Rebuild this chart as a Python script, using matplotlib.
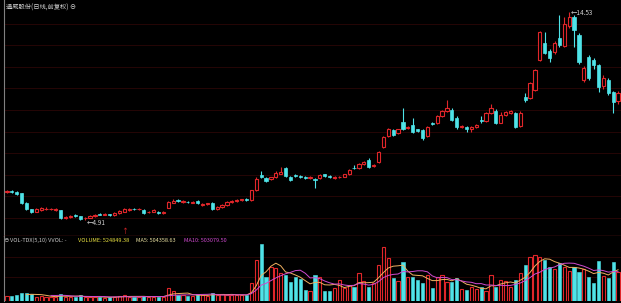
import numpy as np
import matplotlib
matplotlib.use("Agg")
import matplotlib.pyplot as plt

plt.rcParams['font.family'] = ['Noto Sans CJK SC', 'DejaVu Sans']

# Daily candles (price, forward adjusted)
opens = [6.22, 6.25, 6.20, 6.15, 5.72, 5.40, 5.30, 5.38, 5.41, 5.40,
         5.38, 5.35, 5.00, 5.04, 5.15, 5.08, 4.98, 5.02, 5.08, 5.20,
         5.16, 5.17, 5.14, 5.22, 5.30, 5.38, 5.42, 5.40, 5.36, 5.26,
         5.30, 5.30, 5.24, 5.48, 5.72, 5.82, 5.74, 5.76, 5.72, 5.80,
         5.60, 5.64, 5.72, 5.42, 5.50, 5.62, 5.74, 5.80, 5.82, 5.88,
         5.84, 6.28, 7.00, 6.86, 6.82, 6.90, 7.06, 7.30, 6.90, 7.00,
         6.96, 6.90, 6.86, 6.82, 6.84, 7.02, 6.94, 6.86, 6.88, 6.92,
         7.02, 7.32, 7.30, 7.48, 7.70, 7.40, 7.58, 8.30, 8.80, 9.06,
         8.92, 9.46, 9.16, 9.32, 9.10, 9.06, 8.80, 9.42, 9.40, 9.70,
         9.96, 10.00, 9.64, 9.20, 9.22, 9.10, 9.22, 9.56, 9.50, 9.86,
         9.96, 9.42, 9.76, 9.84, 9.88, 9.24, 10.60, 10.56, 10.93, 12.32,
         13.10, 12.75, 12.70, 13.34, 12.96, 13.90, 14.30, 13.47, 11.40, 12.46,
         12.30, 12.09, 11.10, 11.40, 10.84, 10.40]
closes = [6.27, 6.20, 6.12, 5.70, 5.40, 5.28, 5.40, 5.45, 5.44, 5.43,
          5.42, 5.00, 5.06, 5.10, 5.10, 4.96, 5.02, 5.08, 5.14, 5.16,
          5.18, 5.14, 5.22, 5.32, 5.40, 5.42, 5.40, 5.42, 5.24, 5.30,
          5.38, 5.24, 5.28, 5.74, 5.80, 5.78, 5.78, 5.74, 5.76, 5.70,
          5.66, 5.68, 5.42, 5.50, 5.62, 5.74, 5.80, 5.84, 5.86, 5.82,
          6.28, 6.82, 6.90, 6.72, 6.88, 7.10, 7.14, 6.94, 6.74, 6.95,
          6.88, 6.86, 6.90, 6.76, 7.00, 6.96, 6.88, 6.90, 6.92, 7.02,
          7.22, 7.30, 7.50, 7.58, 7.36, 7.46, 8.06, 8.74, 9.10, 8.86,
          9.10, 9.12, 9.22, 8.98, 9.04, 8.70, 9.20, 9.34, 9.70, 9.96,
          10.10, 9.56, 9.20, 9.26, 9.10, 9.20, 9.30, 9.48, 9.86, 10.10,
          9.40, 9.76, 9.90, 9.96, 9.22, 9.88, 10.45, 11.25, 11.85, 13.61,
          12.64, 12.40, 13.10, 13.00, 14.00, 14.30, 13.70, 12.22, 11.95, 11.50,
          12.08, 11.07, 11.50, 10.80, 10.38, 10.80]
highs = [6.32, 6.30, 6.24, 6.18, 5.75, 5.42, 5.46, 5.50, 5.50, 5.47,
         5.47, 5.38, 5.10, 5.14, 5.20, 5.10, 5.05, 5.12, 5.18, 5.25,
         5.22, 5.20, 5.26, 5.36, 5.45, 5.46, 5.46, 5.46, 5.40, 5.34,
         5.42, 5.34, 5.32, 5.80, 5.86, 5.88, 5.82, 5.80, 5.80, 5.84,
         5.70, 5.72, 5.76, 5.55, 5.66, 5.78, 5.84, 5.88, 5.90, 5.92,
         6.32, 6.90, 7.20, 6.90, 6.92, 7.18, 7.36, 7.36, 6.95, 7.04,
         7.00, 6.94, 6.94, 6.86, 7.04, 7.06, 6.98, 6.94, 6.96, 7.06,
         7.26, 7.44, 7.56, 7.64, 7.76, 7.50, 8.10, 8.80, 9.16, 9.10,
         9.14, 10.10, 9.28, 9.63, 9.14, 9.10, 9.26, 9.46, 9.78, 10.02,
         10.47, 10.08, 9.70, 9.30, 9.26, 9.24, 9.34, 9.70, 9.92, 10.30,
         10.05, 9.90, 9.96, 10.00, 9.92, 9.94, 10.80, 11.30, 11.90, 13.65,
         13.60, 12.80, 13.20, 14.40, 14.30, 14.53, 14.40, 13.55, 12.05, 12.55,
         12.40, 12.15, 11.60, 11.50, 10.90, 10.90]
lows = [6.18, 6.15, 6.08, 5.65, 5.35, 5.24, 5.26, 5.34, 5.38, 5.36,
        5.33, 4.97, 4.96, 5.00, 5.06, 4.92, 4.91, 4.98, 5.04, 5.12,
        5.12, 5.10, 5.10, 5.18, 5.26, 5.34, 5.36, 5.36, 5.20, 5.22,
        5.26, 5.20, 5.20, 5.45, 5.68, 5.74, 5.70, 5.70, 5.68, 5.66,
        5.56, 5.60, 5.38, 5.38, 5.46, 5.58, 5.70, 5.76, 5.78, 5.78,
        5.80, 6.24, 6.85, 6.68, 6.78, 6.86, 7.02, 6.90, 6.70, 6.90,
        6.84, 6.82, 6.82, 6.40, 6.80, 6.92, 6.84, 6.82, 6.84, 6.88,
        6.98, 7.26, 7.26, 7.44, 7.30, 7.34, 7.54, 8.26, 8.76, 8.80,
        8.88, 9.08, 9.10, 8.94, 9.00, 8.60, 8.76, 9.30, 9.36, 9.66,
        9.92, 9.50, 9.14, 9.16, 8.98, 9.00, 9.18, 9.40, 9.46, 9.82,
        9.35, 9.38, 9.70, 9.80, 9.18, 9.20, 10.35, 10.50, 10.88, 12.28,
        12.60, 12.20, 12.60, 12.90, 12.90, 13.80, 12.90, 12.15, 11.30, 11.40,
        11.90, 10.84, 10.95, 10.70, 9.85, 10.30]
# volume in thousands
volumes = [90, 95, 100, 140, 150, 120, 80, 85, 75, 70,
           80, 130, 75, 70, 80, 100, 70, 65, 70, 80,
           60, 65, 75, 90, 100, 80, 70, 75, 95, 70,
           80, 75, 70, 234, 180, 110, 100, 90, 95, 130,
           100, 90, 140, 110, 120, 115, 110, 105, 100, 110,
           324, 738, 1026, 432, 612, 594, 504, 468, 342, 432,
           396, 198, 180, 468, 432, 180, 180, 234, 378, 234,
           288, 252, 504, 360, 252, 324, 648, 972, 774, 414,
           360, 702, 432, 432, 378, 324, 468, 234, 432, 468,
           342, 342, 414, 216, 198, 252, 216, 252, 180, 468,
           252, 378, 360, 252, 378, 504, 648, 792, 828, 792,
           738, 612, 576, 684, 612, 540, 612, 522, 576, 432,
           324, 720, 450, 414, 702, 524.85]

o = np.array(opens)
c = np.array(closes)
h = np.array(highs)
l = np.array(lows)
v = np.array(volumes) * 1000
x = np.arange(len(o))
up = c >= o

RED = '#e0262a'
CYAN = '#4fe3e8'
GRID = '#2c0606'

fig = plt.figure(figsize=(6.21, 3.03), dpi=100, facecolor='black')
ax = fig.add_axes([4/621, 67/303, 617/621, 236/303], facecolor='black')
axv = fig.add_axes([4/621, 2/303, 617/621, 65/303], facecolor='black')

for p in range(5, 15):
    ax.axhline(p, color=GRID, lw=0.6, zorder=0)

top = np.maximum(o, c)
bot = np.minimum(o, c)
w = 0.66
# down candles: solid cyan
d = ~up
ax.vlines(x[d], l[d], h[d], color=CYAN, lw=0.8, zorder=2)
ax.bar(x[d], top[d] - bot[d], w, bot[d], color=CYAN, edgecolor=CYAN, lw=0.5, zorder=3)
# up candles: hollow red
ax.vlines(x[up], top[up], h[up], color=RED, lw=0.8, zorder=2)
ax.vlines(x[up], l[up], bot[up], color=RED, lw=0.8, zorder=2)
ax.bar(x[up], np.maximum(top[up] - bot[up], 0.02), w, bot[up], facecolor='black',
       edgecolor=RED, lw=0.8, zorder=3)

ax.set_xlim(-0.6, 125.6)
ax.set_ylim(4.17, 15.09)

ih = int(np.argmax(h))
il = int(np.argmin(l))
ax.text(ih + 0.3, h[ih] - 0.05, '←14.53', color='#cfcfcf', fontsize=4.6, va='center', ha='left')
ax.text(il + 0.3, l[il] - 0.12, '←4.91', color='#cfcfcf', fontsize=4.6, va='center', ha='left')
ax.text(24, 4.42, '↑', color=RED, fontsize=5, va='center', ha='center')

ax.text(0.004, 0.985, '通威股份(日线,前复权) ⊖', transform=ax.transAxes, color='#d0d0d0',
        fontsize=4.5, va='top', ha='left')

for s in ['top', 'right']:
    ax.spines[s].set_visible(False)
ax.spines['left'].set_color('#808080')
ax.spines['bottom'].set_color('#7a1a1a')
ax.spines['bottom'].set_linewidth(1.0)
ax.set_xticks([])
ax.set_yticks([])

# volume panel
for g in [4.3e5, 7.9e5]:
    axv.axhline(g, color=GRID, lw=0.6, zorder=0)
axv.bar(x[d], v[d], 0.66, color=CYAN, edgecolor=CYAN, lw=0.4, zorder=2)
axv.bar(x[up], v[up], 0.66, facecolor='black', edgecolor=RED, lw=0.8, zorder=2)
ma5 = np.convolve(v, np.ones(5) / 5, mode='valid')
ma10 = np.convolve(v, np.ones(10) / 10, mode='valid')
axv.plot(x[4:], ma5, color='#f0b060', lw=0.7, zorder=3)
axv.plot(x[9:], ma10, color='#d04ad0', lw=0.7, zorder=3)
axv.set_xlim(-0.6, 125.6)
axv.set_ylim(0, 1.17e6)
for s in ['top', 'right', 'bottom']:
    axv.spines[s].set_visible(False)
axv.spines['left'].set_color('#808080')
axv.set_xticks([])
axv.set_yticks([])

ty = 1 - 240 / 303
fs = 4.0
fig.text(3/621, ty, '⊖', color='#a0a0a0', fontsize=fs, va='center')
fig.text(10/621, ty, 'VOL-TDX(5,10) VVOL: -', color='#c8c8c8', fontsize=fs, va='center')
fig.text(78/621, ty, 'VOLUME: 524849.38', color='#e8e040', fontsize=fs, va='center')
fig.text(136/621, ty, 'MA5: 504358.63', color='#e8e0a0', fontsize=fs, va='center')
fig.text(184/621, ty, 'MA10: 503079.50', color='#d04ad0', fontsize=fs, va='center')

fig.savefig('out.png', dpi=100, facecolor='black')
